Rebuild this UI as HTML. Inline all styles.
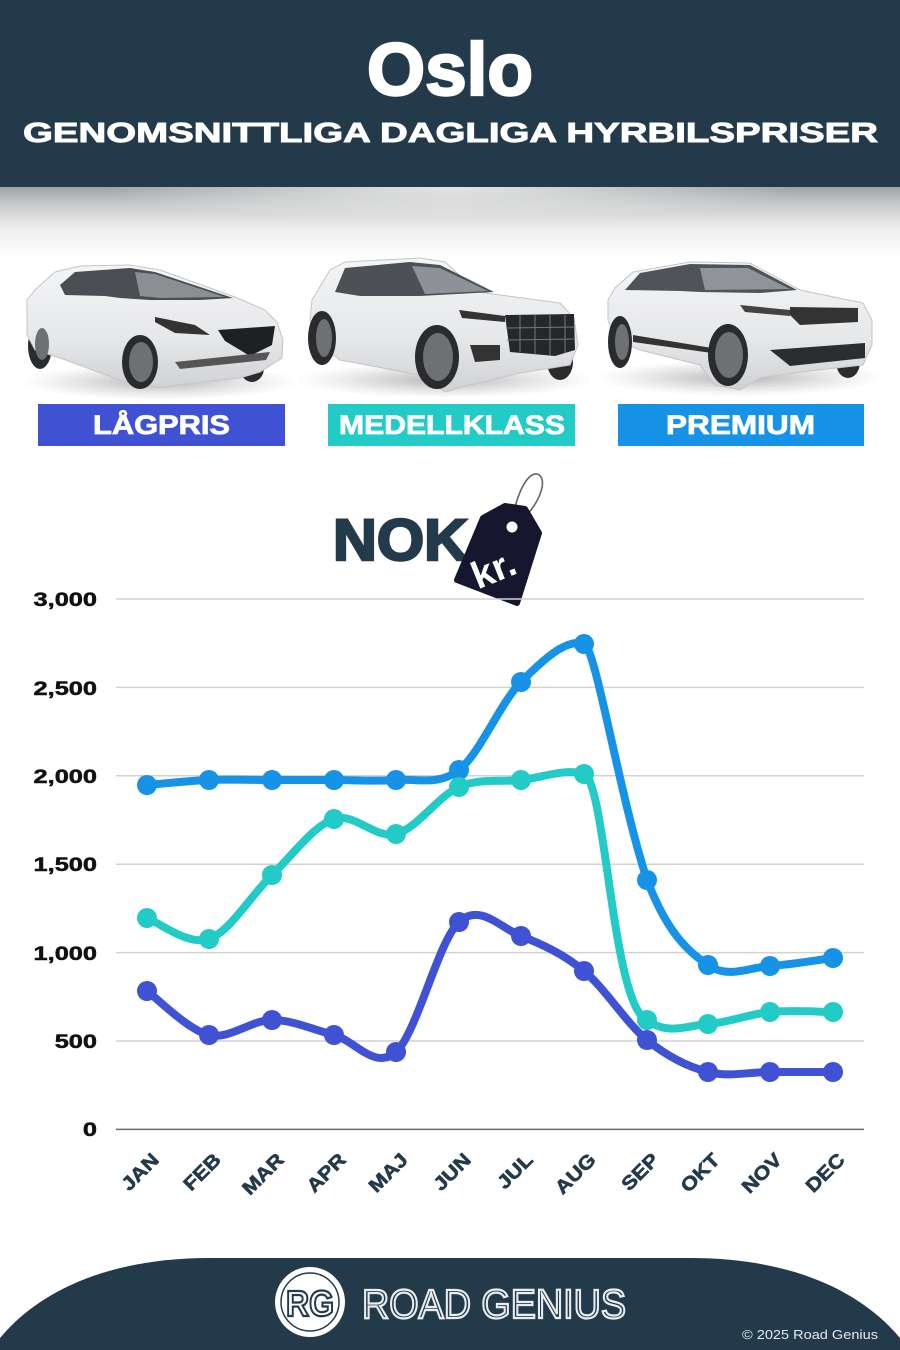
<!DOCTYPE html>
<html><head><meta charset="utf-8"><style>
html,body{margin:0;padding:0;background:#fff;}
svg{display:block;}
text{font-family:"Liberation Sans",sans-serif;}
</style></head><body>
<svg width="900" height="1350" viewBox="0 0 900 1350" xmlns="http://www.w3.org/2000/svg">
<defs>
<linearGradient id="shd" x1="0" y1="0" x2="0" y2="1">
<stop offset="0" stop-color="#9fa2a5"/>
<stop offset="0.25" stop-color="#c9cacb"/>
<stop offset="0.6" stop-color="#eeeeee"/>
<stop offset="1" stop-color="#ffffff"/>
</linearGradient>
<radialGradient id="mid" cx="0.5" cy="0" r="0.5">
<stop offset="0" stop-color="#fff" stop-opacity="0.7"/>
<stop offset="1" stop-color="#fff" stop-opacity="0"/>
</radialGradient>
<radialGradient id="cshadow" cx="0.5" cy="0.5" r="0.5">
<stop offset="0" stop-color="#9a9a9a" stop-opacity="0.75"/>
<stop offset="1" stop-color="#bbbbbb" stop-opacity="0"/>
</radialGradient>
<linearGradient id="body" x1="0" y1="0" x2="0" y2="1">
<stop offset="0" stop-color="#f4f5f6"/>
<stop offset="0.6" stop-color="#e6e7e9"/>
<stop offset="1" stop-color="#cfd1d4"/>
</linearGradient>
</defs>

<!-- header -->
<rect x="0" y="0" width="900" height="187" fill="#233a4b"/>
<rect x="0" y="187" width="900" height="70" fill="url(#shd)"/>
<rect x="100" y="187" width="700" height="70" fill="url(#mid)"/>
<text x="367" y="95" font-size="74" font-weight="bold" fill="#fff" stroke="#fff" stroke-width="2.5" textLength="166" lengthAdjust="spacingAndGlyphs">Oslo</text>
<text x="23" y="142" font-size="28" font-weight="bold" fill="#fff" stroke="#fff" stroke-width="0.9" textLength="855" lengthAdjust="spacingAndGlyphs">GENOMSNITTLIGA DAGLIGA HYRBILSPRISER</text>

<!-- car shadows -->
<ellipse cx="160" cy="382" rx="140" ry="18" fill="url(#cshadow)"/>
<ellipse cx="445" cy="380" rx="150" ry="18" fill="url(#cshadow)"/>
<ellipse cx="740" cy="378" rx="145" ry="18" fill="url(#cshadow)"/>

<!-- car 1 -->
<g>
<ellipse cx="40" cy="346" rx="12" ry="23" fill="#2a2b2e"/>
<ellipse cx="252" cy="368" rx="12" ry="14" fill="#2a2b2e"/>
<polygon points="27,300 35,290 55,272 80,266 130,265 160,270 235,297 265,310 277,322 283,340 282,358 260,372 240,378 175,385 160,388 120,380 60,358 35,350 27,335" fill="url(#body)" stroke="#c3c5c8" stroke-width="1"/>
<polygon points="60,285 75,272 130,268 155,272 233,298 200,300 150,300 120,298 105,296 65,295" fill="#4a4d52"/>
<polygon points="135,272 155,274 225,297 160,298 140,296" fill="#8b8e93"/>
<polygon points="155,317 195,325 210,335 175,333 155,322" fill="#333"/>
<polygon points="218,330 275,326 272,345 250,356 225,341" fill="#1f2023"/>
<polygon points="175,362 270,352 266,360 180,369" fill="#555"/>
<ellipse cx="140" cy="362" rx="18" ry="27" fill="#2a2b2e"/>
<ellipse cx="141" cy="362" rx="12" ry="20" fill="#6e7074"/>
<ellipse cx="42" cy="344" rx="7" ry="16" fill="#6e7074"/>
</g>

<!-- car 2 -->
<g>
<ellipse cx="560" cy="362" rx="13" ry="18" fill="#2a2b2e"/>
<polygon points="312,300 330,270 345,262 420,258 445,262 478,292 560,303 574,318 578,345 570,365 520,373 470,385 445,392 420,375 340,360 318,345 310,320" fill="url(#body)" stroke="#c3c5c8" stroke-width="1"/>
<polygon points="335,292 345,268 410,262 440,265 494,292 420,296 360,296" fill="#4d5055"/>
<polygon points="412,266 440,268 488,291 425,294" fill="#8e9196"/>
<polygon points="459,310 505,316 505,322 462,318" fill="#333"/>
<polygon points="505,315 574,314 575,350 555,356 510,352" fill="#26272a"/>
<g stroke="#777" stroke-width="1"><line x1="520" y1="315" x2="520" y2="352"/><line x1="535" y1="315" x2="535" y2="354"/><line x1="550" y1="315" x2="550" y2="355"/><line x1="565" y1="315" x2="565" y2="353"/><line x1="506" y1="328" x2="575" y2="327"/><line x1="507" y1="340" x2="575" y2="339"/></g>
<polygon points="470,345 500,345 500,360 475,362" fill="#333"/>
<ellipse cx="322" cy="338" rx="14" ry="27" fill="#2a2b2e"/>
<ellipse cx="324" cy="338" rx="8" ry="19" fill="#6e7074"/>
<ellipse cx="437" cy="357" rx="22" ry="32" fill="#2a2b2e"/>
<ellipse cx="438" cy="357" rx="15" ry="24" fill="#6e7074"/>
</g>

<!-- car 3 -->
<g>
<ellipse cx="848" cy="362" rx="12" ry="16" fill="#2a2b2e"/>
<polygon points="608,300 615,288 633,272 690,262 750,263 800,290 863,303 872,320 872,345 863,365 800,372 760,378 740,390 715,385 700,365 640,350 615,340 608,320" fill="url(#body)" stroke="#c3c5c8" stroke-width="1"/>
<polygon points="625,290 640,273 690,264 750,265 797,290 760,293 700,292 680,291" fill="#505358"/>
<polygon points="700,268 748,268 790,289 705,290" fill="#909398"/>
<polygon points="790,307 858,308 858,322 800,325 790,315" fill="#333"/>
<polygon points="740,305 790,310 790,316 745,312" fill="#444"/>
<polygon points="770,350 865,343 865,358 790,366" fill="#2c2d30"/>
<polygon points="633,335 712,348 712,353 633,342" fill="#333"/>
<ellipse cx="620" cy="342" rx="12" ry="26" fill="#2a2b2e"/>
<ellipse cx="622" cy="342" rx="7" ry="18" fill="#6e7074"/>
<ellipse cx="728" cy="355" rx="20" ry="31" fill="#2a2b2e"/>
<ellipse cx="729" cy="355" rx="14" ry="23" fill="#6e7074"/>
</g>

<!-- category labels -->
<rect x="38" y="404" width="247" height="42" fill="#3f52d4"/>
<text x="93" y="434" font-size="27" font-weight="bold" fill="#fff" stroke="#fff" stroke-width="0.8" textLength="137" lengthAdjust="spacingAndGlyphs">LÅGPRIS</text>
<rect x="328" y="404" width="247" height="42" fill="#22cbc5"/>
<text x="339" y="434" font-size="27" font-weight="bold" fill="#fff" stroke="#fff" stroke-width="0.8" textLength="226" lengthAdjust="spacingAndGlyphs">MEDELLKLASS</text>
<rect x="618" y="404" width="246" height="42" fill="#1693e7"/>
<text x="666" y="434" font-size="27" font-weight="bold" fill="#fff" stroke="#fff" stroke-width="0.8" textLength="149" lengthAdjust="spacingAndGlyphs">PREMIUM</text>

<!-- NOK tag -->
<text x="333" y="560" font-size="58" font-weight="bold" fill="#233a4b" stroke="#233a4b" stroke-width="2.5" textLength="135" lengthAdjust="spacingAndGlyphs">NOK</text>
<path d="M512,527 C514,500 526,472 537,474 C549,477 541,506 515,526" fill="none" stroke="#666" stroke-width="1.6"/>
<polygon points="483,518 505,506 525,509 539,533 517,603 457,580" fill="#16162e" stroke="#16162e" stroke-width="6" stroke-linejoin="round"/>
<circle cx="512" cy="527" r="5.5" fill="#fff"/>
<text x="494" y="582" font-size="38" font-weight="bold" fill="#fff" text-anchor="middle" transform="rotate(-22 494 570)">kr.</text>

<!-- gridlines -->
<g stroke="#d2d2d2" stroke-width="1.5">
<line x1="116" y1="599" x2="864" y2="599"/>
<line x1="116" y1="687.4" x2="864" y2="687.4"/>
<line x1="116" y1="775.8" x2="864" y2="775.8"/>
<line x1="116" y1="864.2" x2="864" y2="864.2"/>
<line x1="116" y1="952.6" x2="864" y2="952.6"/>
<line x1="116" y1="1041" x2="864" y2="1041"/>
</g>
<line x1="116" y1="1129.4" x2="864" y2="1129.4" stroke="#6a6a6a" stroke-width="1.5"/>

<!-- y labels -->
<g font-size="19.5" font-weight="bold" fill="#111" stroke="#111" stroke-width="0.5" text-anchor="end">
<text transform="translate(97,606) scale(1.3,1)">3,000</text>
<text transform="translate(97,695) scale(1.3,1)">2,500</text>
<text transform="translate(97,783) scale(1.3,1)">2,000</text>
<text transform="translate(97,871) scale(1.3,1)">1,500</text>
<text transform="translate(97,960) scale(1.3,1)">1,000</text>
<text transform="translate(97,1048) scale(1.3,1)">500</text>
<text transform="translate(97,1136) scale(1.3,1)">0</text>
</g>

<!-- x labels -->
<g font-size="19" font-weight="bold" fill="#233a4b" stroke="#233a4b" stroke-width="0.6" text-anchor="end">
<text transform="translate(160,1161) rotate(-45) scale(1.15,1)">JAN</text>
<text transform="translate(222,1161) rotate(-45) scale(1.15,1)">FEB</text>
<text transform="translate(285,1161) rotate(-45) scale(1.15,1)">MAR</text>
<text transform="translate(347,1161) rotate(-45) scale(1.15,1)">APR</text>
<text transform="translate(409,1161) rotate(-45) scale(1.15,1)">MAJ</text>
<text transform="translate(472,1161) rotate(-45) scale(1.15,1)">JUN</text>
<text transform="translate(534,1161) rotate(-45) scale(1.15,1)">JUL</text>
<text transform="translate(597,1161) rotate(-45) scale(1.15,1)">AUG</text>
<text transform="translate(660,1161) rotate(-45) scale(1.15,1)">SEP</text>
<text transform="translate(721,1161) rotate(-45) scale(1.15,1)">OKT</text>
<text transform="translate(783,1161) rotate(-45) scale(1.15,1)">NOV</text>
<text transform="translate(846,1161) rotate(-45) scale(1.15,1)">DEC</text>
</g>

<!-- series -->
<g fill="none" stroke-width="8" stroke-linecap="round" stroke-linejoin="round">
<path stroke="#1693e7" d="M147,785 C157.3,784.2 188.2,780.8 209,780 C229.8,779.2 251.2,780 272,780 C292.8,780 313.3,780 334,780 C354.7,780 375.2,781.7 396,780 C416.8,778.3 438.2,786.3 459,770 C479.8,753.7 500.2,703 521,682 C541.8,661 566,638 584,644 C596,648 618,790 647,880 C667.7,933.5 687.5,950.7 708,965 C728.5,979.3 749.2,967.2 770,966 C790.8,964.8 822.5,959.3 833,958"/>
<path stroke="#22cbc5" d="M147,918 C157.3,921.5 188.2,946.2 209,939 C229.8,931.8 251.2,895 272,875 C292.8,855 313.3,825.8 334,819 C354.7,812.2 375.2,839.3 396,834 C416.8,828.7 438.2,796 459,787 C479.8,778 500.2,782.2 521,780 C541.8,777.8 565,768 584,774 C606,782 612,1005 647,1020 C668,1036 688,1025 708,1024 C728.5,1022.7 749.2,1014 770,1012 C790.8,1010 822.5,1012 833,1012"/>
<path stroke="#3f52d4" d="M147,991 C157.3,998.3 188.2,1030.2 209,1035 C229.8,1039.8 251.2,1020 272,1020 C292.8,1020 313.3,1029.7 334,1035 C354.7,1040.3 375.2,1070.8 396,1052 C416.8,1033.2 438.2,941.3 459,922 C479.8,902.7 500.2,927.8 521,936 C541.8,944.2 563,953.7 584,971 C605,988.3 626.3,1023.2 647,1040 C667.7,1056.8 687.5,1066.7 708,1072 C728.5,1077.3 749.2,1072 770,1072 C790.8,1072 822.5,1072 833,1072"/>
</g>
<g fill="#1693e7">
<circle cx="147" cy="785" r="10"/><circle cx="209" cy="780" r="10"/><circle cx="272" cy="780" r="10"/><circle cx="334" cy="780" r="10"/><circle cx="396" cy="780" r="10"/><circle cx="459" cy="770" r="10"/><circle cx="521" cy="682" r="10"/><circle cx="584" cy="644" r="10"/><circle cx="647" cy="880" r="10"/><circle cx="708" cy="965" r="10"/><circle cx="770" cy="966" r="10"/><circle cx="833" cy="958" r="10"/>
</g>
<g fill="#22cbc5">
<circle cx="147" cy="918" r="10"/><circle cx="209" cy="939" r="10"/><circle cx="272" cy="875" r="10"/><circle cx="334" cy="819" r="10"/><circle cx="396" cy="834" r="10"/><circle cx="459" cy="787" r="10"/><circle cx="521" cy="780" r="10"/><circle cx="584" cy="774" r="10"/><circle cx="647" cy="1020" r="10"/><circle cx="708" cy="1024" r="10"/><circle cx="770" cy="1012" r="10"/><circle cx="833" cy="1012" r="10"/>
</g>
<g fill="#3f52d4">
<circle cx="147" cy="991" r="10"/><circle cx="209" cy="1035" r="10"/><circle cx="272" cy="1020" r="10"/><circle cx="334" cy="1035" r="10"/><circle cx="396" cy="1052" r="10"/><circle cx="459" cy="922" r="10"/><circle cx="521" cy="936" r="10"/><circle cx="584" cy="971" r="10"/><circle cx="647" cy="1040" r="10"/><circle cx="708" cy="1072" r="10"/><circle cx="770" cy="1072" r="10"/><circle cx="833" cy="1072" r="10"/>
</g>

<!-- footer -->
<path d="M0,1350 L0,1338 C40,1290 110,1258 210,1258 L690,1258 C790,1258 860,1290 900,1338 L900,1350 Z" fill="#233a4b"/>
<circle cx="310" cy="1302" r="35" fill="#fff"/>
<circle cx="310" cy="1302" r="29" fill="#fff" stroke="#233a4b" stroke-width="1.5"/>
<text x="310" y="1316" font-size="36" font-weight="bold" fill="#fff" stroke="#233a4b" stroke-width="2.2" text-anchor="middle" textLength="48" lengthAdjust="spacingAndGlyphs">RG</text>
<text x="362" y="1318" font-size="41" fill="#233a4b" stroke="#e9edf0" stroke-width="2.2" textLength="264" lengthAdjust="spacingAndGlyphs">ROAD GENIUS</text>
<text x="878" y="1339" font-size="13" fill="#e6e9ec" text-anchor="end" textLength="136" lengthAdjust="spacingAndGlyphs">© 2025 Road Genius</text>
</svg>
</body></html>
